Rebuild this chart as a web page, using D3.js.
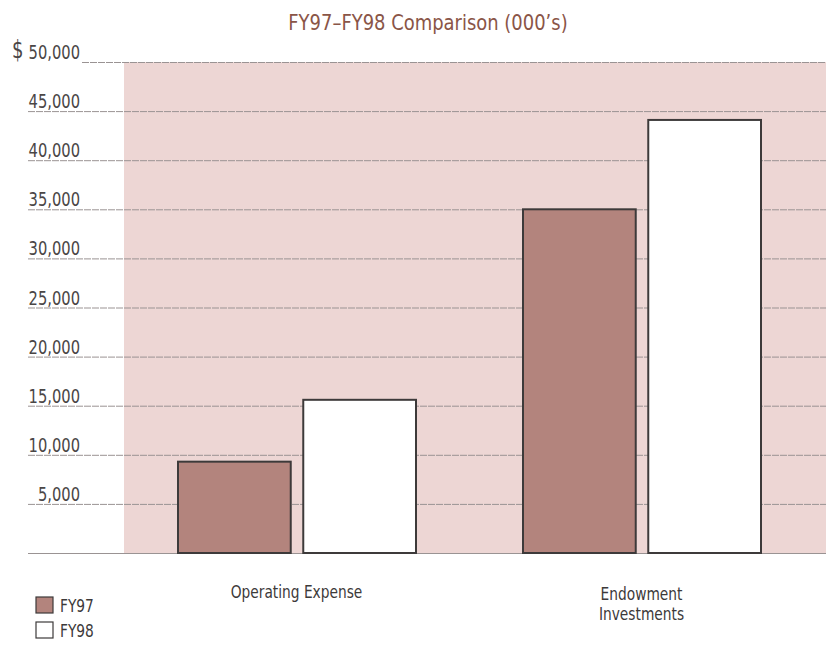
<!DOCTYPE html>
<html>
<head>
<meta charset="utf-8">
<script src="https://cdn.jsdelivr.net/npm/d3@7"></script>
<style>
  body { margin: 0; background: #fff; }
  text { font-family: "DejaVu Sans Condensed", "Liberation Sans Narrow", "Roboto", sans-serif; }
</style>
</head>
<body>
<svg width="826" height="647"></svg>
<script>
// data
var categories = ["Operating Expense", "Endowment Investments"];
var series = ["FY97", "FY98"];
var fy97 = [9300, 35000];
var fy98 = [15600, 44100];
var yTicks = [5000, 10000, 15000, 20000, 25000, 30000, 35000, 40000, 45000, 50000];
// end of data

var svg = d3.select("svg");
var values = { FY97: fy97, FY98: fy98 };
var fills = { FY97: "#b3847d", FY98: "#ffffff" };

// squeeze text horizontally so it looks like the narrow face of the original
function squeeze(sel, k) {
  sel.each(function() {
    var w = this.getComputedTextLength();
    d3.select(this).attr("textLength", w * k).attr("lengthAdjust", "spacingAndGlyphs");
  });
}

var y = d3.scaleLinear().domain([0, 50000]).range([553, 62]);
var x0 = d3.scaleBand().domain(categories).range([124, 814]);
var x1 = d3.scaleBand().domain(series).range([54, 292]).paddingInner(0.1);

// pink plot background
svg.append("rect")
  .attr("x", 124).attr("y", y(50000))
  .attr("width", 826 - 124).attr("height", y(0) - y(50000))
  .attr("fill", "#edd6d4");

// grid lines
svg.selectAll("line.grid")
  .data([0].concat(yTicks))
  .enter().append("line")
    .attr("class", "grid")
    .attr("x1", function(d) { return d === 50000 ? 82 : 28; })
    .attr("x2", 826)
    .attr("y1", function(d) { return y(d) + 0.5; })
    .attr("y2", function(d) { return y(d) + 0.5; })
    .attr("stroke", "#9a9393")
    .attr("stroke-width", 1)
    .attr("stroke-dasharray", function(d) { return d === 0 ? null : "7,1"; });

// tick labels
svg.selectAll("text.tick")
  .data(yTicks)
  .enter().append("text")
    .attr("class", "tick")
    .attr("x", 80)
    .attr("y", function(d) { return y(d) - 3; })
    .attr("text-anchor", "end")
    .attr("font-size", 19)
    .attr("fill", "#4a4646")
    .text(function(d) { return d3.format(",")(d); })
    .call(squeeze, 0.86);

svg.append("text")
  .attr("x", 12).attr("y", 58)
  .attr("font-size", 25)
  .attr("fill", "#4a4646")
  .text("$")
  .call(squeeze, 0.8);

// bars
var groups = svg.selectAll("g.cat")
  .data(categories)
  .enter().append("g")
    .attr("class", "cat")
    .attr("transform", function(d) { return "translate(" + x0(d) + ",0)"; });

groups.selectAll("rect")
  .data(function(d, i) { return series.map(function(s) { return { s: s, v: values[s][i] }; }); })
  .enter().append("rect")
    .attr("x", function(d) { return x1(d.s); })
    .attr("y", function(d) { return y(d.v); })
    .attr("width", x1.bandwidth())
    .attr("height", function(d) { return y(0) - y(d.v); })
    .attr("fill", function(d) { return fills[d.s]; })
    .attr("stroke", "#3d3a3a")
    .attr("stroke-width", 2);

// category labels
groups.append("text")
  .attr("text-anchor", "middle")
  .attr("font-size", 18)
  .attr("fill", "#3d3a3a")
  .each(function(d, i) {
    var words = i === 0 ? [d] : d.split(" ");
    var t = d3.select(this);
    words.forEach(function(w, j) {
      t.append("tspan")
        .attr("x", x0.bandwidth() / 2)
        .attr("y", (i === 0 ? 598 : 600) + j * 20)
        .text(w);
    });
  });
groups.selectAll("tspan").call(squeeze, 0.85);

// title
svg.append("text")
  .attr("x", 428).attr("y", 30)
  .attr("text-anchor", "middle")
  .attr("font-size", 21)
  .attr("fill", "#8a5547")
  .text("FY97\u2013FY98 Comparison (000\u2019s)")
  .call(squeeze, 0.95);

// legend
var legend = svg.selectAll("g.legend")
  .data(series)
  .enter().append("g")
    .attr("class", "legend")
    .attr("transform", function(d, i) { return "translate(36," + (597 + i * 25) + ")"; });

legend.append("rect")
  .attr("width", 17).attr("height", 16)
  .attr("fill", function(d) { return fills[d]; })
  .attr("stroke", "#3d3a3a")
  .attr("stroke-width", 1.2);

legend.append("text")
  .attr("x", 24).attr("y", 15)
  .attr("font-size", 18)
  .attr("fill", "#3d3a3a")
  .text(function(d) { return d; })
  .call(squeeze, 0.85);
</script>
</body>
</html>
